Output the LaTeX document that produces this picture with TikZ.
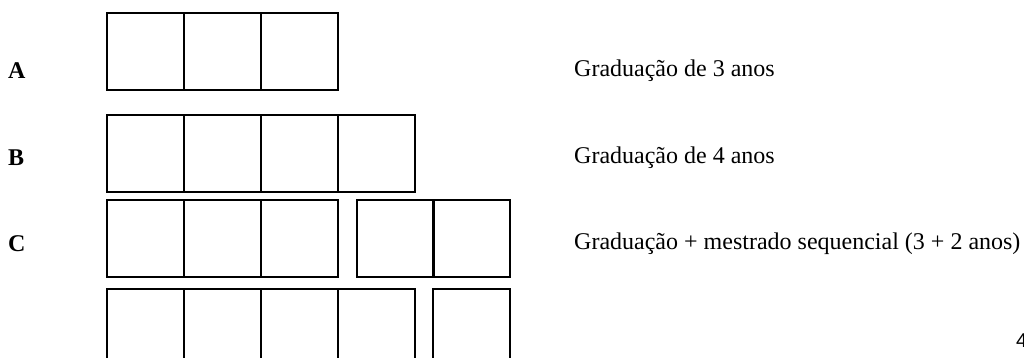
\documentclass[tikz,border=0pt]{standalone}
\usepackage{fontspec}
\setmainfont{Liberation Serif}
\newfontfamily\sansnum{Liberation Sans}
\begin{document}
\begin{tikzpicture}[x=1pt,y=-1pt,
  cell/.style={draw, line width=1.3pt, minimum width=77pt, minimum height=77pt,
    inner sep=0pt, outer sep=0pt, anchor=north west},
  rowlabel/.style={anchor=west, inner sep=0pt, font=\fontsize{24}{28}\selectfont\bfseries},
  desc/.style={anchor=west, inner sep=0pt, font=\fontsize{24}{28}\selectfont}]
\useasboundingbox (0,0) rectangle (1024,358);
\clip (0,0) rectangle (1024,358);
% row A: three-year degree
\foreach \i/\x in {1/107,2/184,3/261}
  \node[cell] (a\i) at (\x,13) {};
% row B: four-year degree
\foreach \i/\x in {1/107,2/184,3/261,4/338}
  \node[cell] (b\i) at (\x,115) {};
% row C: 3 + 2 years
\foreach \i/\x in {1/107,2/184,3/261,4/357,5/433}
  \node[cell] (c\i) at (\x,200) {};
% row D: 4 + 1 years
\foreach \i/\x in {1/107,2/184,3/261,4/338,5/433}
  \node[cell] (d\i) at (\x,289) {};
% letters
\node[rowlabel] (la) at (8,71) {A};
\node[rowlabel] (lb) at (8,158) {B};
\node[rowlabel] (lc) at (8,244) {C};
% descriptions
\node[desc] (ta) at (574,71) {Graduação de 3 anos};
\node[desc] (tb) at (574,158) {Graduação de 4 anos};
\node[desc] (tc) at (574,244) {Graduação + mestrado sequencial (3 + 2 anos)};
% page number at the corner
\node[anchor=south west, inner sep=0pt, font=\sansnum\fontsize{20}{22}\selectfont] (pg) at (1016,348) {4};
\end{tikzpicture}
\end{document}
